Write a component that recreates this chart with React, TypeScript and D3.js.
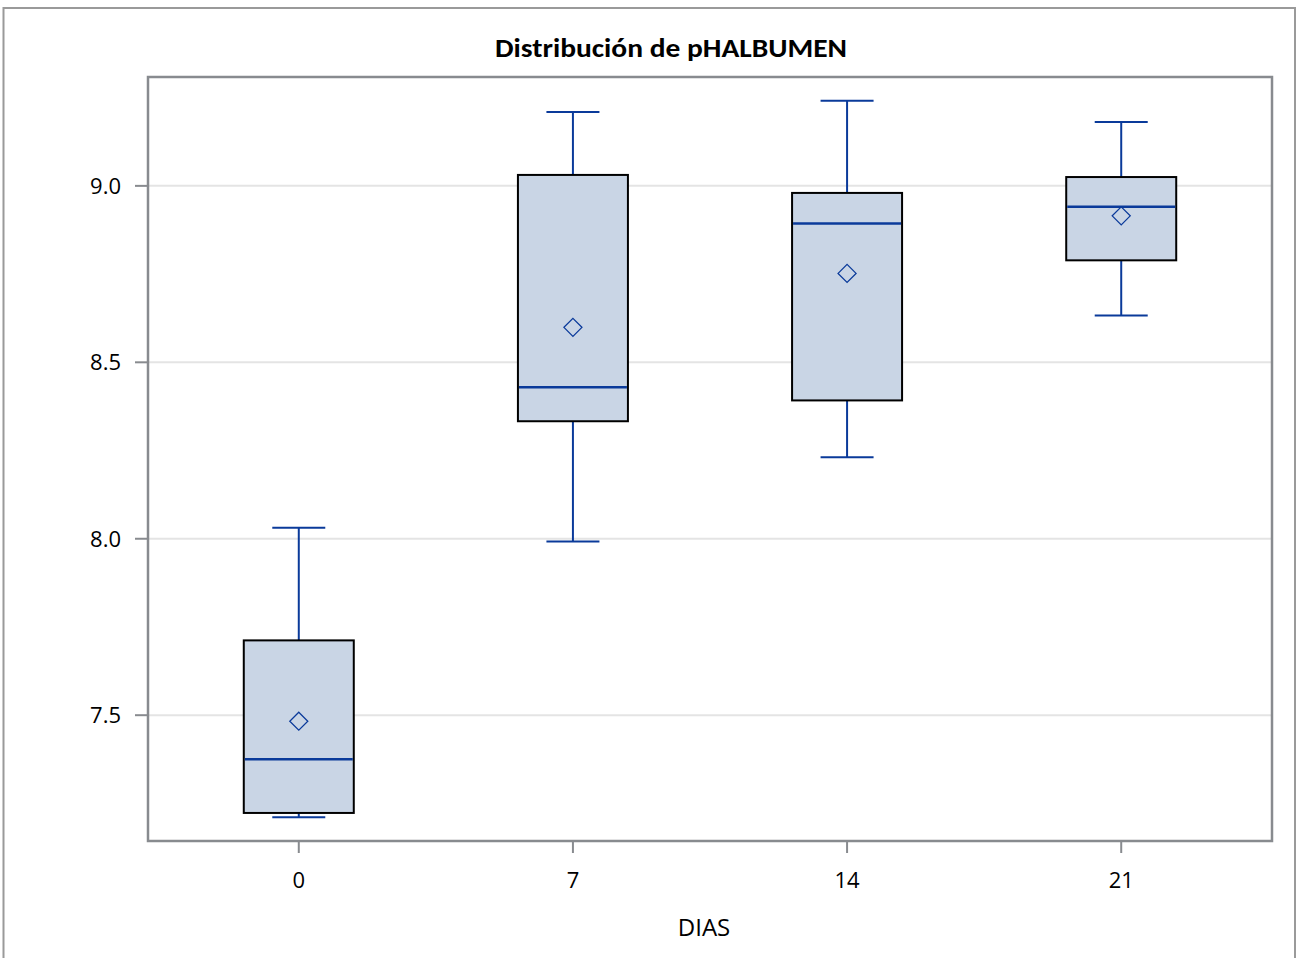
import React from "react";
import * as d3 from "d3";

const days = ["0", "7", "14", "21"];
const whiskerLow = [7.211, 7.992, 8.231, 8.633];
const q1 = [7.223, 8.333, 8.392, 8.789];
const median = [7.375, 8.429, 8.893, 8.941];
const q3 = [7.712, 9.031, 8.98, 9.025];
const whiskerHigh = [8.031, 9.209, 9.241, 9.181];
const means = [7.483, 8.599, 8.752, 8.915];
const yTicks = [7.5, 8.0, 8.5, 9.0];

const W = 1299;
const H = 958;
const plot = { left: 148, right: 1272, top: 77, bottom: 841 };

export default function App() {
  const x = d3
    .scalePoint<string>()
    .domain(days)
    .range([plot.left, plot.right])
    .padding(0.55);
  const y = d3
    .scaleLinear()
    .domain([7.1435, 9.3085])
    .range([plot.bottom, plot.top]);

  const boxW = 110;
  const capW = 53;
  const blue = "#0a3a9a";
  const frame = "#888b8f";
  const font = "'Open Sans', 'Noto Sans', sans-serif";

  return (
    <svg
      width={W}
      height={H}
      style={{ position: "absolute", left: 0, top: 0, background: "#fff" }}
    >
      <rect x={0} y={0} width={W} height={H} fill="#fff" />
      {/* outer frame */}
      <path
        d={`M3.5,${H} V8 H1295 V${H}`}
        fill="none"
        stroke="#9a9a9a"
        strokeWidth={2}
      />
      <text
        x={671}
        y={57}
        textAnchor="middle"
        fontFamily="Carlito, Lato, 'Open Sans', sans-serif"
        fontWeight="bold"
        fontSize={26}
        textLength={352}
        lengthAdjust="spacingAndGlyphs"
        fill="#000"
      >
        Distribución de pHALBUMEN
      </text>

      {/* gridlines */}
      {yTicks.map((t) => (
        <line
          key={"g" + t}
          x1={plot.left}
          x2={plot.right}
          y1={y(t)}
          y2={y(t)}
          stroke="#e4e4e4"
          strokeWidth={2}
        />
      ))}

      {/* boxes */}
      {days.map((d, i) => {
        const cx = x(d)!;
        const m = y(means[i]);
        const r = 9;
        return (
          <g key={d}>
            <line x1={cx} x2={cx} y1={y(whiskerHigh[i])} y2={y(q3[i])} stroke={blue} strokeWidth={2} />
            <line x1={cx} x2={cx} y1={y(q1[i])} y2={y(whiskerLow[i])} stroke={blue} strokeWidth={2} />
            <line x1={cx - capW / 2} x2={cx + capW / 2} y1={y(whiskerHigh[i])} y2={y(whiskerHigh[i])} stroke={blue} strokeWidth={2} />
            <line x1={cx - capW / 2} x2={cx + capW / 2} y1={y(whiskerLow[i])} y2={y(whiskerLow[i])} stroke={blue} strokeWidth={2} />
            <rect
              x={cx - boxW / 2}
              y={y(q3[i])}
              width={boxW}
              height={y(q1[i]) - y(q3[i])}
              fill="#c9d5e5"
              stroke="#000"
              strokeWidth={2}
            />
            <line x1={cx - boxW / 2 + 1} x2={cx + boxW / 2 - 1} y1={y(median[i])} y2={y(median[i])} stroke={blue} strokeWidth={2.5} />
            <path
              d={`M${cx},${m - r} L${cx + r},${m} L${cx},${m + r} L${cx - r},${m} Z`}
              fill="none"
              stroke={blue}
              strokeWidth={1.3}
            />
          </g>
        );
      })}

      {/* plot frame */}
      <rect
        x={plot.left}
        y={plot.top}
        width={plot.right - plot.left}
        height={plot.bottom - plot.top}
        fill="none"
        stroke={frame}
        strokeWidth={2.5}
      />

      {/* y axis ticks */}
      {yTicks.map((t) => (
        <g key={"y" + t}>
          <line x1={plot.left - 13} x2={plot.left} y1={y(t)} y2={y(t)} stroke={frame} strokeWidth={2} />
          <text
            x={plot.left - 27}
            y={y(t)}
            dy="0.36em"
            textAnchor="end"
            fontFamily={font}
            fontSize={22}
            fill="#000"
          >
            {d3.format(".1f")(t)}
          </text>
        </g>
      ))}

      {/* x axis ticks */}
      {days.map((d) => (
        <g key={"x" + d}>
          <line x1={x(d)!} x2={x(d)!} y1={plot.bottom} y2={plot.bottom + 12} stroke={frame} strokeWidth={2} />
          <text
            x={x(d)!}
            y={880}
            dy="0.36em"
            textAnchor="middle"
            fontFamily={font}
            fontSize={22}
            fill="#000"
          >
            {d}
          </text>
        </g>
      ))}
      <text
        x={704}
        y={927}
        dy="0.36em"
        textAnchor="middle"
        fontFamily={font}
        fontSize={24}
        fill="#000"
      >
        DIAS
      </text>
    </svg>
  );
}
